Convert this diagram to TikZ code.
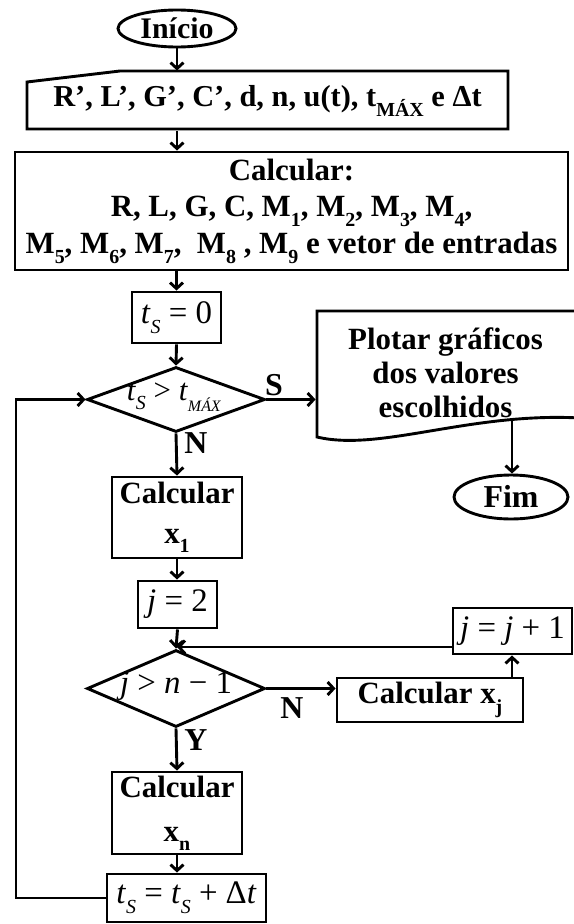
\documentclass[tikz,border=0pt]{standalone}
\usepackage{fontspec}
\setmainfont{Liberation Serif}
\usetikzlibrary{arrows.meta,shapes.geometric}
\newcommand\lowsub[2][0.3em]{\raisebox{-#1}{\fontsize{20}{20}\selectfont #2}}
\newcommand\smsub[2][0.3em]{\raisebox{-#1}{\fontsize{16}{16}\selectfont #2}}
\begin{document}
\begin{tikzpicture}[x=1bp,y=-1bp,line width=2.9bp,
  box/.style={draw,rectangle,inner sep=0pt},
  hid/.style={rectangle,inner sep=0pt},
  term/.style={draw,ellipse,inner sep=0pt},
  dia/.style={draw,diamond,inner sep=0pt},
  arr/.style={-{Straight Barb[length=6bp,width=13bp]}},
  bf/.style={font=\fontsize{31}{37}\selectfont\bfseries,align=center},
  rm/.style={font=\fontsize{33}{36}\selectfont,inner sep=0pt},
  lbl/.style={font=\fontsize{32}{32}\selectfont\bfseries,inner sep=0pt}]
\useasboundingbox (0,0) rectangle (574,924);

% start
\node[term,minimum width=118bp,minimum height=37bp] (ini) at (177,28.5) {};
\node[lbl,font=\fontsize{30}{30}\selectfont\bfseries] (init) at (177,28) {Início};

% manual input
\node[hid,minimum width=481bp,minimum height=58bp,font=\fontsize{30.5}{37}\selectfont\bfseries] (inp) at (267.5,101)
  {R’, L’, G’, C’, d, n, u(t), t\lowsub{MÁX} e Δt};
\draw (27,129) -- (27,82) -- (120,71) -- (508,71) -- (508,129) -- cycle;

% calculate block
\node[box,minimum width=553bp,minimum height=118bp,bf] (calc) at (291.5,211)
  {Calcular:\\R, L, G, C, M\lowsub{1}, M\lowsub{2}, M\lowsub{3}, M\lowsub{4},\\
   M\lowsub{5}, M\lowsub{6}, M\lowsub{7},~ M\lowsub{8} , M\lowsub{9} e vetor de entradas};

% ts = 0
\node[box,minimum width=89bp,minimum height=51bp,rm] (t0) at (176.5,317.5)
  {\textit{t}\lowsub{\textit{S}} = 0};

% decision 1
\node[dia,minimum width=178bp,minimum height=65bp] (d1) at (176,399.5) {};
\node[rm,font=\fontsize{31}{36}\selectfont] (d1t) at (174,397) {\textit{t}\lowsub{\textit{S}} > \textit{t}\smsub[0.35em]{\textit{MÁX}}};

% plot document
\node[hid,minimum width=257bp,minimum height=126bp,font=\fontsize{31}{34}\selectfont\bfseries,align=center] (doc) at (445.5,373)
  {Plotar gráficos\\dos valores\\escolhidos};
\draw (580,311) -- (317,311) -- (317,437) .. controls (380,452) and (470,412) .. (580,418);
\coordinate (docout) at (512,419);

% end
\node[term,minimum width=114bp,minimum height=44bp] (fim) at (511,497) {};
\node[lbl] (fimt) at (511,496) {Fim};

% calcular x1
\node[box,minimum width=130bp,minimum height=81bp,font=\fontsize{31}{40}\selectfont\bfseries,align=center] (x1) at (177,517.5)
  {Calcular\\x\lowsub{1}};

% j = 2
\node[box,minimum width=79bp,minimum height=47bp,rm] (j2) at (177.5,604.5) {\textit{j} = 2};

% decision 2
\node[dia,minimum width=178bp,minimum height=77bp] (d2) at (176,688.5) {};
\node[rm] (d2t) at (176,686) {\textit{j} > \textit{n} − 1};
\coordinate (ret) at (177,647);

% calcular xj
\node[box,minimum width=186bp,minimum height=44bp,bf] (xj) at (430,700) {Calcular x\lowsub{j}};

% j = j+1
\node[box,minimum width=119bp,minimum height=46bp,rm] (jj) at (512.5,631) {\textit{j} = \textit{j} + 1};

% calcular xn
\node[box,minimum width=130bp,minimum height=82bp,font=\fontsize{31}{44}\selectfont\bfseries,align=center] (xn) at (177,813)
  {Calcular\\x\lowsub{n}};

% ts = ts + dt
\node[box,minimum width=159bp,minimum height=48bp,rm] (ts2) at (186.5,898)
  {\textit{t}\lowsub{\textit{S}} = \textit{t}\lowsub{\textit{S}} + Δ\textit{t}};

% labels
\node[lbl] (lS) at (274,385) {S};
\node[lbl] (lN1) at (196,443) {N};
\node[lbl] (lN2) at (292,708) {N};
\node[lbl] (lY) at (196,740) {Y};

% connectors
\draw[arr] (ini.south) -- (ini.south |- inp.north);
\draw[arr] (ini.south |- inp.south) -- (ini.south |- calc.north);
\draw[arr] (t0.north |- calc.south) -- (t0.north);
\draw[arr] (t0.south) -- (d1.north);
\draw[arr] (d1.east) -- (d1.east -| doc.west);
\draw[arr] (docout) -- (docout |- fim.north);
\draw[arr] (d1.south) -- (x1.north);
\draw[arr] (x1.south) -- (x1.south |- j2.north);
\draw[arr] (j2.south) -- (d2.north);
\draw[arr] (jj.west |- ret) -- (ret);
\draw[arr] (d2.east) -- (d2.east -| xj.west);
\draw[arr] ([xshift=82bp]xj.north) -- ([xshift=82bp]xj.north |- jj.south);
\draw[arr] (d2.south) -- (xn.north);
\draw[arr] (xn.south) -- (xn.south |- ts2.north);
\draw[arr] (ts2.west) -- (16,898) |- (d1.west);
\end{tikzpicture}
\end{document}
